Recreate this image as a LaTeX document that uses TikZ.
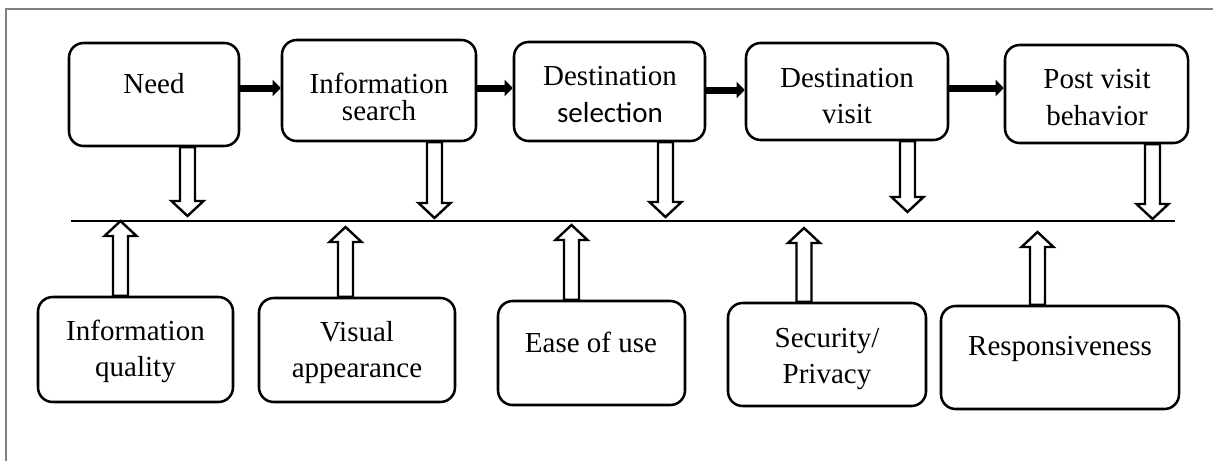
\documentclass[tikz,border=0pt]{standalone}
\usepackage{fontspec}
\setmainfont{Liberation Serif}
\newfontfamily\sansalt{Carlito}
\usetikzlibrary{calc,fit,arrows.meta}

% hollow block arrows: start of shaft, tip
\newcommand\blockdown[2]{%
  \draw[hollow] let \p1=(#1), \p2=(#2) in
    (\x2-5.625pt,\y1) -- (\x2-5.625pt,\y2+11.25pt) -- (\x2-12pt,\y2+11.25pt)
    -- (\p2) -- (\x2+12pt,\y2+11.25pt) -- (\x2+5.625pt,\y2+11.25pt)
    -- (\x2+5.625pt,\y1) -- cycle;}
\newcommand\blockup[2]{%
  \draw[hollow] let \p1=(#1), \p2=(#2) in
    (\x2-5.625pt,\y1) -- (\x2-5.625pt,\y2-11.25pt) -- (\x2-12pt,\y2-11.25pt)
    -- (\p2) -- (\x2+12pt,\y2-11.25pt) -- (\x2+5.625pt,\y2-11.25pt)
    -- (\x2+5.625pt,\y1) -- cycle;}

\begin{document}
\begin{tikzpicture}[x=0.75pt,y=-0.75pt,
  stage/.style={draw, line width=1.9pt, rounded corners=11pt, inner sep=0pt},
  txt/.style={inner sep=0pt, anchor=base, font=\fontsize{21.75}{26}\selectfont},
  flow/.style={line width=5.25pt, -{Triangle[length=6pt,width=12pt]}},
  hollow/.style={draw, fill=white, line width=1.8pt, line join=miter},
  baseline/.style={line width=2pt},
  frame/.style={draw=gray, line width=0.9pt},
]
\useasboundingbox (0,0) rectangle (1213,461);

% outer frame
\coordinate (fr1) at (6,461);
\coordinate (fr2) at (6,9);
\coordinate (fr3) at (1213,9);
\draw[frame] (fr1) -- (fr2) -- (fr3);

% stages of the visit
\node[stage, fit={(69,43) (239,146)}] (n1) {};
\node[stage, fit={(282,40) (476,141)}] (n2) {};
\node[stage, fit={(514,42) (705,141)}] (n3) {};
\node[stage, fit={(746,43) (948,140)}] (n4) {};
\node[stage, fit={(1005,45) (1188,143)}] (n5) {};

\node[txt] (t1) at (154,93) {Need};
\node[txt] (t2a) at (379,93) {Information};
\node[txt] (t2b) at (379,120) {search};
\node[txt] (t3a) at (610,85) {Destination};
\node[txt] (t3b) at (610,122) {\sansalt selection};
\node[txt] (t4a) at (847,87) {Destination};
\node[txt] (t4b) at (847,123) {visit};
\node[txt] (t5a) at (1097,88) {Post visit};
\node[txt] (t5b) at (1097,125) {behavior};

% website factors
\node[stage, fit={(38,297) (233,402)}] (f1) {};
\node[stage, fit={(259,298) (455,402)}] (f2) {};
\node[stage, fit={(498,301) (685,405)}] (f3) {};
\node[stage, fit={(728,303) (926,406)}] (f4) {};
\node[stage, fit={(941,306) (1179,409)}] (f5) {};

\node[txt] (b1a) at (135.5,340) {Information};
\node[txt] (b1b) at (135.5,376) {quality};
\node[txt] (b2a) at (357,341) {Visual};
\node[txt] (b2b) at (357,377) {appearance};
\node[txt] (b3) at (591,352) {Ease of use};
\node[txt] (b4a) at (827,347) {Security/};
\node[txt] (b4b) at (827,383) {Privacy};
\node[txt] (b5) at (1060,355) {Responsiveness};

% flow between stages
\coordinate (r1) at (0,88);
\coordinate (r2) at (0,88);
\coordinate (r3) at (0,90);
\coordinate (r4) at (0,88);
\draw[flow] (n1.east |- r1) -- (n2.west |- r1);
\draw[flow] (n2.east |- r2) -- (n3.west |- r2);
\draw[flow] (n3.east |- r3) -- (n4.west |- r3);
\draw[flow] (n4.east |- r4) -- (n5.west |- r4);

% common line
\coordinate (hl1) at (71,221);
\coordinate (hl2) at (1175,221);
\draw[baseline] (hl1) -- (hl2);

% stages feeding the line
\coordinate (d1) at (187.5,216);
\coordinate (d2) at (434.5,218);
\coordinate (d3) at (665.5,217);
\coordinate (d4) at (907.5,212);
\coordinate (d5) at (1152.5,219);
\blockdown{n1.south -| d1}{d1}
\blockdown{n2.south -| d2}{d2}
\blockdown{n3.south -| d3}{d3}
\blockdown{n4.south -| d4}{d4}
\blockdown{n5.south -| d5}{d5}

% factors feeding the line
\coordinate (u1) at (120.5,221);
\coordinate (u2) at (345.5,227);
\coordinate (u3) at (571.5,225);
\coordinate (u4) at (804,228);
\coordinate (u5) at (1037.5,232);
\blockup{f1.north -| u1}{u1}
\blockup{f2.north -| u2}{u2}
\blockup{f3.north -| u3}{u3}
\blockup{f4.north -| u4}{u4}
\blockup{f5.north -| u5}{u5}
\end{tikzpicture}
\end{document}
